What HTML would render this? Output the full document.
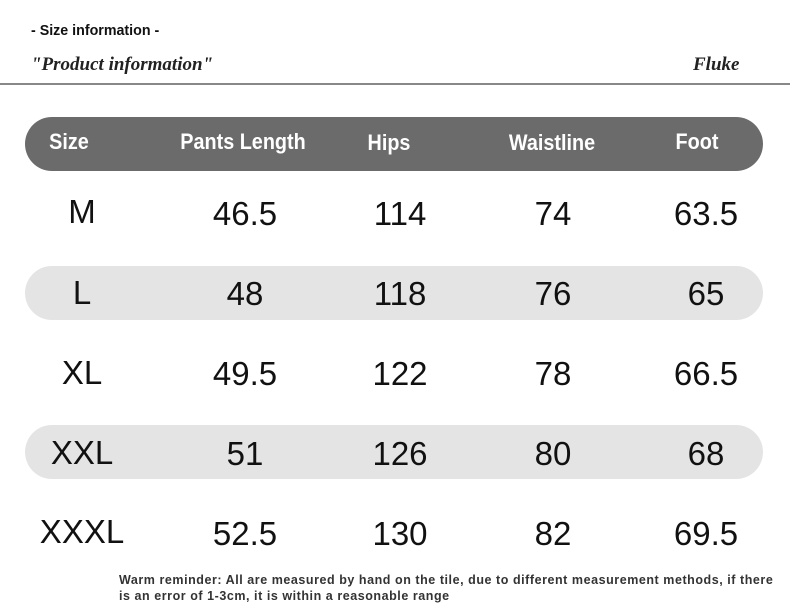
<!DOCTYPE html>
<html><head><meta charset="utf-8"><style>
body{margin:0;width:790px;height:610px;background:#fff;position:relative;overflow:hidden;font-family:"Liberation Sans",sans-serif}
.a{position:absolute}
.t{position:absolute;transform:translate(-50%,-50%);white-space:nowrap}
.h{font-weight:bold;font-size:22px;color:#fff;transform:translate(-50%,-50%) scaleX(0.9)}
.d{font-size:33px;color:#111}
</style></head><body>
<div class="a" style="left:31px;top:22px;font-weight:bold;font-size:15px;color:#111;transform-origin:left;transform:scaleX(0.95)">- Size information -</div>
<div class="a" style="left:31px;top:54px;font-family:'Liberation Serif',serif;font-weight:bold;font-style:italic;font-size:19px;color:#222">"Product information"</div>
<div class="a" style="left:693px;top:54px;font-family:'Liberation Serif',serif;font-weight:bold;font-style:italic;font-size:19px;color:#222">Fluke</div>
<div class="a" style="left:0;top:83px;width:790px;height:2px;background:#888"></div>
<div class="a" style="left:25px;top:117px;width:738px;height:54px;border-radius:27px;background:#6b6b6b"></div>
<div class="a" style="left:25px;top:266px;width:738px;height:54px;border-radius:27px;background:#e4e4e4"></div>
<div class="a" style="left:25px;top:425px;width:738px;height:54px;border-radius:27px;background:#e4e4e4"></div>
<div class="t h" style="left:69px;top:142px">Size</div>
<div class="t h" style="left:243px;top:142px">Pants Length</div>
<div class="t h" style="left:389px;top:143px">Hips</div>
<div class="t h" style="left:552px;top:143px">Waistline</div>
<div class="t h" style="left:697px;top:142px">Foot</div>

<div class="t d" style="left:82px;top:212px">M</div><div class="t d" style="left:245px;top:214px">46.5</div><div class="t d" style="left:400px;top:214px">114</div><div class="t d" style="left:553px;top:214px">74</div><div class="t d" style="left:706px;top:214px">63.5</div>
<div class="t d" style="left:82px;top:293px">L</div><div class="t d" style="left:245px;top:294px">48</div><div class="t d" style="left:400px;top:294px">118</div><div class="t d" style="left:553px;top:294px">76</div><div class="t d" style="left:706px;top:294px">65</div>
<div class="t d" style="left:82px;top:373px">XL</div><div class="t d" style="left:245px;top:374px">49.5</div><div class="t d" style="left:400px;top:374px">122</div><div class="t d" style="left:553px;top:374px">78</div><div class="t d" style="left:706px;top:374px">66.5</div>
<div class="t d" style="left:82px;top:453px">XXL</div><div class="t d" style="left:245px;top:454px">51</div><div class="t d" style="left:400px;top:454px">126</div><div class="t d" style="left:553px;top:454px">80</div><div class="t d" style="left:706px;top:454px">68</div>
<div class="t d" style="left:82px;top:532px">XXXL</div><div class="t d" style="left:245px;top:534px">52.5</div><div class="t d" style="left:400px;top:534px">130</div><div class="t d" style="left:553px;top:534px">82</div><div class="t d" style="left:706px;top:534px">69.5</div>

<div class="a" style="left:119px;top:572px;width:680px;font-weight:bold;font-size:12.5px;letter-spacing:0.55px;line-height:16px;color:#333;white-space:nowrap">Warm reminder: All are measured by hand on the tile, due to different measurement methods, if there<br>is an error of 1-3cm, it is within a reasonable range</div>
</body></html>
